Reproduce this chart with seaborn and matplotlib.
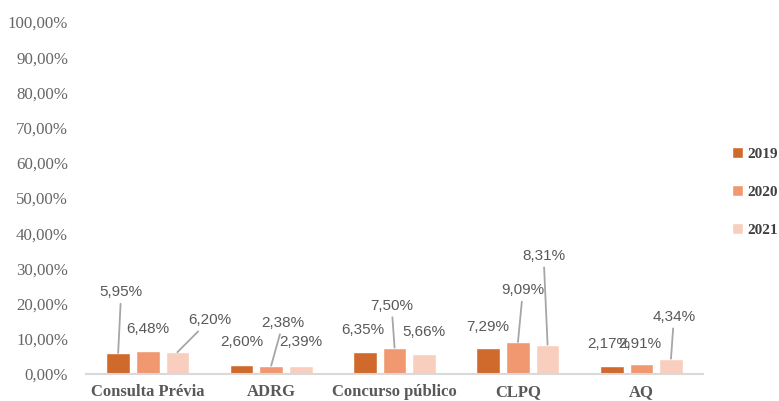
import matplotlib
matplotlib.use('Agg')
import matplotlib.pyplot as plt
import pandas as pd
import seaborn as sns
from matplotlib.ticker import FuncFormatter

categories = ['Consulta Prévia', 'ADRG', 'Concurso público', 'CLPQ', 'AQ']
years = ['2019', '2020', '2021']
values_2019 = [5.95, 2.60, 6.35, 7.29, 2.17]
values_2020 = [6.48, 2.38, 7.50, 9.09, 2.91]
values_2021 = [6.20, 2.39, 5.66, 8.31, 4.34]
y_ticks = [0, 10, 20, 30, 40, 50, 60, 70, 80, 90, 100]

colors = ['#CF6A2C', '#F19870', '#F8CEBE']
label_color = '#595959'

# label offsets (pixels, from bar top) as laid out in the original chart
label_offsets = {
    '2019': [(3, 61), (0, 23), (-2, 22), (-1, 21), (-3, 22)],
    '2020': [(0, 22), (12, 43), (-3, 42), (5, 52), (-2, 20)],
    '2021': [(32, 32), (0, 24), (0, 22), (-4, 89), (3, 42)],
}

series = {'2019': values_2019, '2020': values_2020, '2021': values_2021}
rows = []
for year in years:
    for cat, v in zip(categories, series[year]):
        rows.append({'Categoria': cat, 'Ano': year, 'Valor': v})
df = pd.DataFrame(rows)

sns.set_style('white')
plt.rcParams['font.family'] = ['Liberation Serif', 'DejaVu Serif']

fig = plt.figure(figsize=(7.79, 4.01), dpi=100)
ax = fig.add_axes([0.1105, 0.0673, 0.792, 0.878])

sns.barplot(data=df, x='Categoria', y='Valor', hue='Ano', palette=colors,
            width=0.72, gap=0.2, ax=ax, saturation=1, legend=True)

ax.set_ylim(0, 100)
ax.set_xlim(-0.5, 4.5)
ax.set_yticks(y_ticks)
ax.yaxis.set_major_formatter(FuncFormatter(lambda v, p: f'{v:.2f}%'.replace('.', ',')))
ax.tick_params(axis='y', length=0, pad=13, labelsize=12.2, labelcolor='#666666')
ax.tick_params(axis='x', length=0, pad=7, labelsize=12, labelcolor=label_color)
for lbl in ax.get_xticklabels():
    lbl.set_fontweight('bold')
ax.set_xlabel('')
ax.set_ylabel('')
for side in ['left', 'right', 'top']:
    ax.spines[side].set_visible(False)
ax.spines['bottom'].set_color('#D9D9D9')
ax.spines['bottom'].set_linewidth(1.5)

# data labels with leader lines
for year, container in zip(years, ax.containers):
    for i, bar in enumerate(container):
        h = bar.get_height()
        xc = bar.get_x() + bar.get_width() / 2
        dx, dy = label_offsets[year][i]
        txt = f'{h:.2f}%'.replace('.', ',')
        arrow = None
        if dy > 30:
            arrow = dict(arrowstyle='-', color='#A6A6A6', lw=1.3, shrinkA=1, shrinkB=0)
        ax.annotate(txt, xy=(xc, h), xytext=(dx * 0.72, dy * 0.72),
                    textcoords='offset points', ha='center', va='center',
                    fontsize=11, color=label_color, family=['Liberation Sans', 'DejaVu Sans'],
                    arrowprops=arrow)

handles, labels = ax.get_legend_handles_labels()
ax.legend(handles, labels, loc='center left', bbox_to_anchor=(0.94, 0.521),
          bbox_transform=fig.transFigure, frameon=False, handlelength=0.7,
          handleheight=0.7, handletextpad=0.3, labelspacing=1.6,
          prop={'weight': 'bold', 'size': 11}, labelcolor='#404040', borderpad=0,
          borderaxespad=0)

fig.savefig('out.png', dpi=100)
